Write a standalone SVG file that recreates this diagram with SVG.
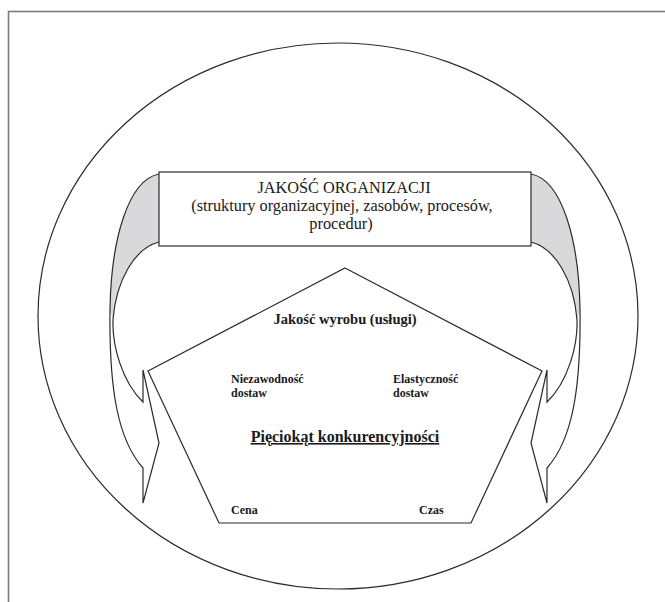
<svg xmlns="http://www.w3.org/2000/svg" width="665" height="602" viewBox="0 0 665 602">
<style>
.ln{fill:none;stroke:#2b2b2b;stroke-width:1.2;stroke-linejoin:miter}
.t{font-family:"Liberation Serif","Times New Roman",serif;fill:#1a1a1a}
.b{font-weight:bold}
</style>
<defs>
<g id="wing">
<path d="M159,174 C128,180 111,240 110,310 L113,320 C116,280 135,248 159,242 Z" fill="#d9d9db" stroke="none"/>
<path class="ln" d="M159,174 C128,180 111,240 110,310 C109,390 118,440 143,468 L143,503 L159,443 L143,370 L143,402 C122,382 112,345 113,320 C116,280 135,248 159,242"/>
</g>
</defs>
<rect id="frame" x="8.5" y="11.5" width="700" height="650" fill="#fff" stroke="#7a7a7a" stroke-width="1.6"/>
<g id="outer-ellipse"><ellipse class="ln" cx="338" cy="316" rx="300" ry="273"/></g>
<g id="connectors">
<use href="#wing"/>
<use href="#wing" transform="translate(690,0) scale(-1,1)"/>
</g>
<g id="organizacja">
<rect x="159" y="172" width="372" height="74" fill="#fff" stroke="#2b2b2b" stroke-width="1.2"/>
<text class="t" x="344" y="193" font-size="16.3" text-anchor="middle">JAKOŚĆ ORGANIZACJI</text>
<text class="t" x="342" y="211" font-size="16.3" text-anchor="middle">(struktury organizacyjnej, zasobów, procesów,</text>
<text class="t" x="341" y="229" font-size="16.3" text-anchor="middle">procedur)</text>
</g>
<g id="pieciokat">
<polygon class="ln" points="345,268 542,371 471,523 219,523 148,371"/>
<text class="t b" x="345" y="324" font-size="14.5" text-anchor="middle">Jakość wyrobu (usługi)</text>
<text class="t b" x="231" y="383" font-size="12">Niezawodność</text>
<text class="t b" x="231" y="397" font-size="12">dostaw</text>
<text class="t b" x="393" y="383" font-size="12">Elastyczność</text>
<text class="t b" x="393" y="397" font-size="12">dostaw</text>
<text class="t b" x="345" y="442" font-size="16" text-anchor="middle" text-decoration="underline">Pięciokąt konkurencyjności</text>
<text class="t b" x="231" y="514" font-size="12">Cena</text>
<text class="t b" x="419" y="514" font-size="12">Czas</text>
</g>
</svg>
